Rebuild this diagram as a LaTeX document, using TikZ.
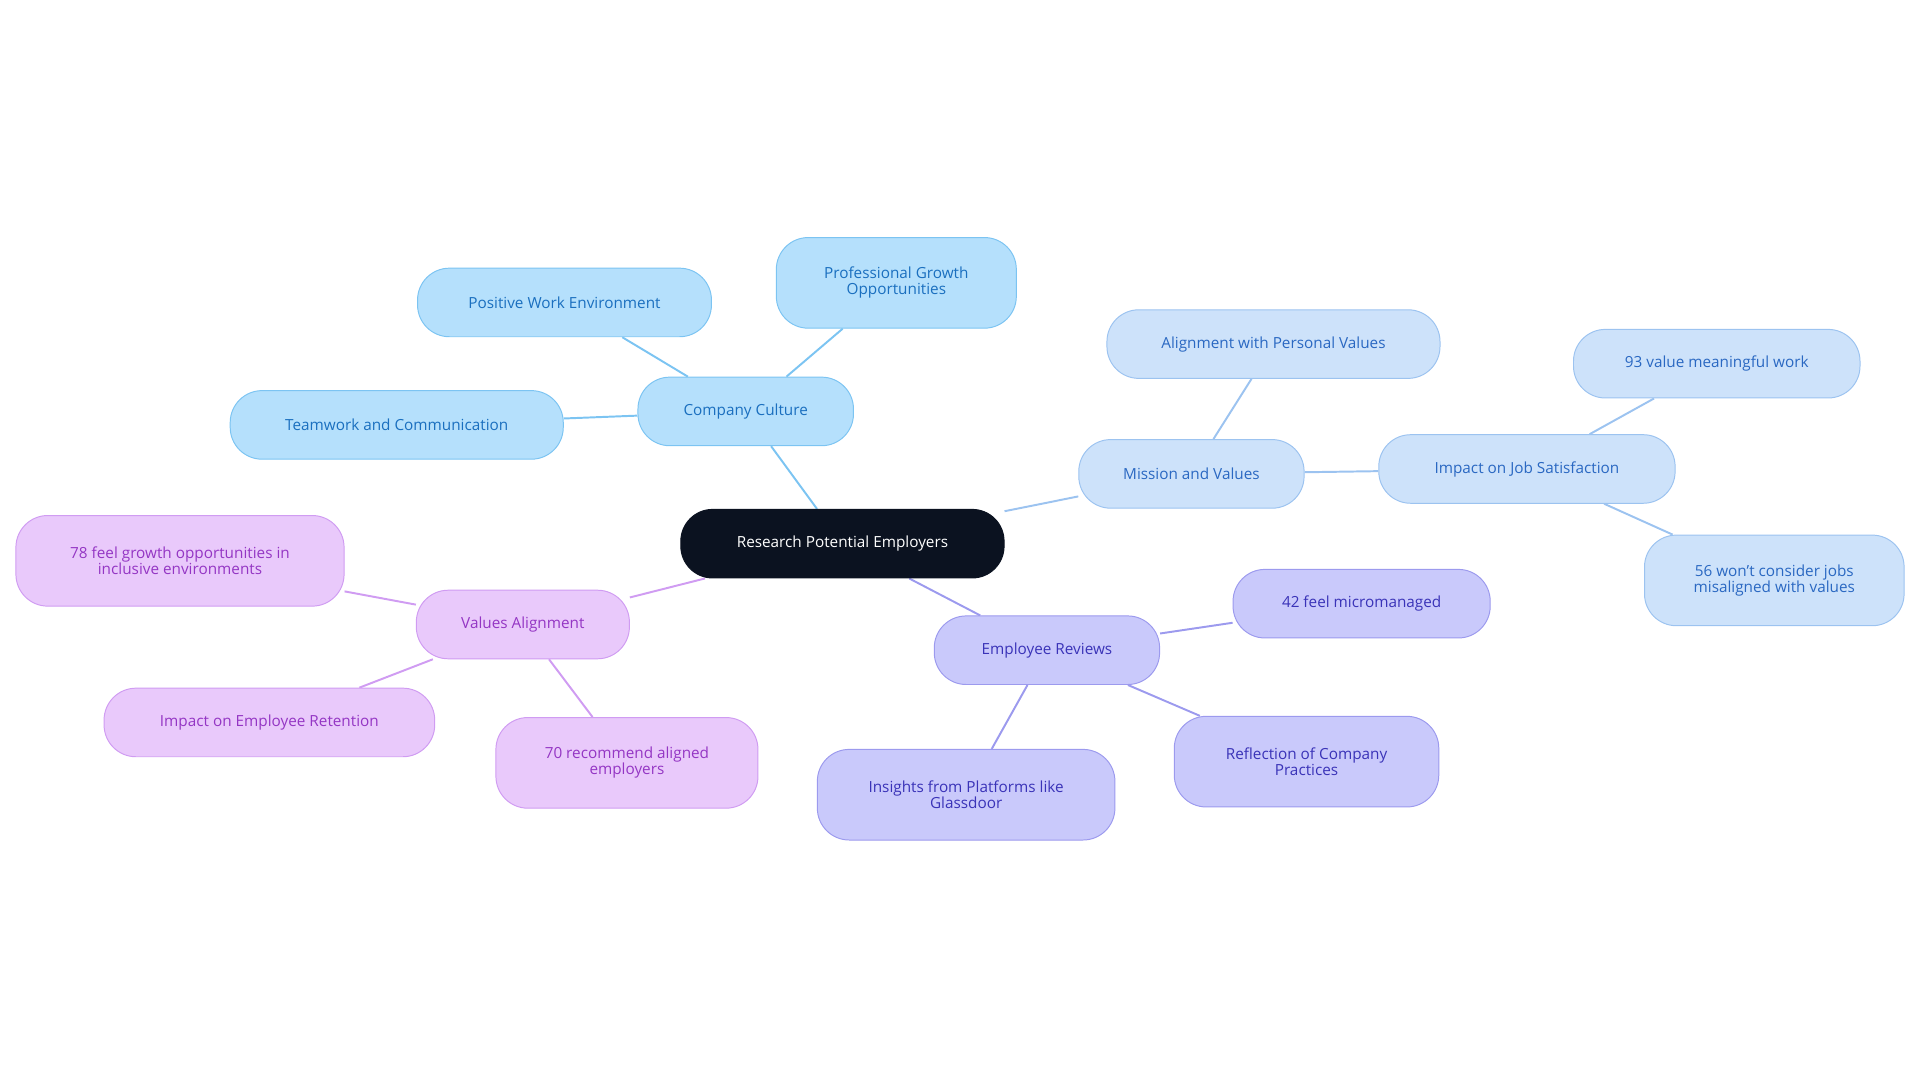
\documentclass[tikz,border=0pt]{standalone}
\usepackage{fontspec}
\setmainfont{Open Sans}
\usetikzlibrary{backgrounds}
\definecolor{cbF}{HTML}{B5E0FC}\definecolor{cbD}{HTML}{7CC4F2}\definecolor{cbT}{HTML}{1A6FBF}
\definecolor{mvF}{HTML}{CDE2FA}\definecolor{mvD}{HTML}{9CC3F0}\definecolor{mvT}{HTML}{2A68C2}
\definecolor{erF}{HTML}{C9C9FB}\definecolor{erD}{HTML}{9C9AEE}\definecolor{erT}{HTML}{3A33B8}
\definecolor{vaF}{HTML}{E9C9FB}\definecolor{vaD}{HTML}{D09CF2}\definecolor{vaT}{HTML}{9436C4}
\definecolor{rootF}{HTML}{0B1220}
\tikzset{
 base/.style={rounded corners=26pt,draw,line width=0.8pt,minimum height=56pt,align=center,font=\fontsize{12.5}{13}\selectfont,inner xsep=8pt},
 cb/.style={base,fill=cbF,draw=cbD,text=cbT},
 mv/.style={base,fill=mvF,draw=mvD,text=mvT},
 er/.style={base,fill=erF,draw=erD,text=erT},
 va/.style={base,fill=vaF,draw=vaD,text=vaT},
 two/.style={minimum height=74pt},
 lcb/.style={draw=cbD,line width=1.6pt},
 lmv/.style={draw=mvD,line width=1.6pt},
 ler/.style={draw=erD,line width=1.6pt},
 lva/.style={draw=vaD,line width=1.6pt},
}
\begin{document}
\begin{tikzpicture}[x=1pt,y=-1pt]
\useasboundingbox (0,0) rectangle (1568,884);
\node[base,fill=rootF,draw=rootF,text=white,minimum width=264pt] (r) at (688,444) {Research Potential Employers};
\node[cb,minimum width=176pt] (cc) at (609,336) {Company Culture};
\node[cb,minimum width=240pt] (pw) at (461,247) {Positive Work Environment};
\node[cb,two,minimum width=196pt] (pg) at (732,231) {Professional Growth\\Opportunities};
\node[cb,minimum width=272pt] (tc) at (324,347) {Teamwork and Communication};
\node[mv,minimum width=184pt] (mv) at (973,387) {Mission and Values};
\node[mv,minimum width=272pt] (ap) at (1040,281) {Alignment with Personal Values};
\node[mv,minimum width=242pt] (ij) at (1247,383) {Impact on Job Satisfaction};
\node[mv,minimum width=234pt] (n93) at (1402,297) {93 value meaningful work};
\node[mv,two,minimum width=212pt] (n56) at (1449,474) {56 won't consider jobs\\misaligned with values};
\node[er,minimum width=184pt] (er) at (855,531) {Employee Reviews};
\node[er,minimum width=210pt] (n42) at (1112,493) {42 feel micromanaged};
\node[er,two,minimum width=216pt] (rc) at (1067,622) {Reflection of Company\\Practices};
\node[er,two,minimum width=243pt] (ig) at (789,649) {Insights from Platforms like\\Glassdoor};
\node[va,minimum width=174pt] (va) at (427,510) {Values Alignment};
\node[va,two,minimum width=268pt] (n78) at (147,458) {78 feel growth opportunities in\\inclusive environments};
\node[va,minimum width=270pt] (ie) at (220,590) {Impact on Employee Retention};
\node[va,two,minimum width=214pt] (n70) at (512,623) {70 recommend aligned\\employers};
\begin{pgfonlayer}{background}
\draw[lcb] (r) -- (cc); \draw[lcb] (cc) -- (pw); \draw[lcb] (cc) -- (pg); \draw[lcb] (cc) -- (tc);
\draw[lmv] (r) -- (mv); \draw[lmv] (mv) -- (ap); \draw[lmv] (mv) -- (ij); \draw[lmv] (ij) -- (n93); \draw[lmv] (ij) -- (n56);
\draw[ler] (r) -- (er); \draw[ler] (er) -- (n42); \draw[ler] (er) -- (rc); \draw[ler] (er) -- (ig);
\draw[lva] (r) -- (va); \draw[lva] (va) -- (n78); \draw[lva] (va) -- (ie); \draw[lva] (va) -- (n70);
\end{pgfonlayer}
\end{tikzpicture}
\end{document}
